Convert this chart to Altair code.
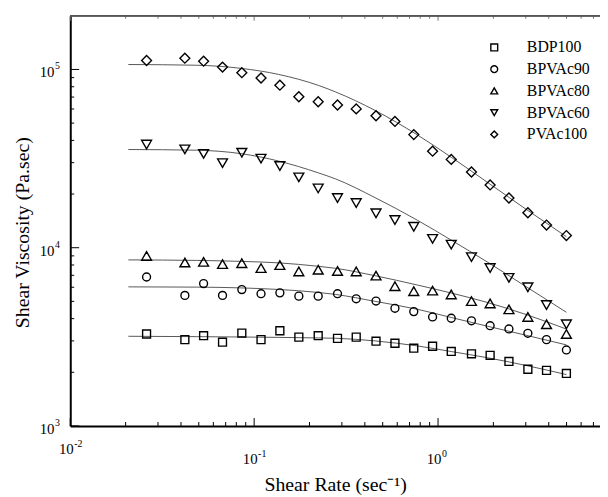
import altair as alt
import pandas as pd

# ---------------- data ----------------
series_names = ["BDP100", "BPVAc90", "BPVAc80", "BPVAc60", "PVAc100"]
shapes = ["square", "circle", "triangle-up", "triangle-down", "diamond"]

shear_rate = [0.026, 0.042, 0.0531, 0.0673, 0.0857, 0.109, 0.138, 0.175, 0.223, 0.284, 0.359,
              0.460, 0.583, 0.738, 0.934, 1.18, 1.52, 1.92, 2.43, 3.08, 3.89, 4.99]
bdp100 = [3280, 3050, 3210, 2950, 3320, 3050, 3420, 3150, 3210, 3100, 3150,
          2990, 2910, 2730, 2800, 2620, 2540, 2490, 2300, 2080, 2050, 1970]
bpvac90 = [6850, 5400, 6290, 5400, 5820, 5520, 5580, 5350, 5350, 5520, 5170,
           5020, 4570, 4380, 4090, 4020, 3890, 3650, 3500, 3310, 3050, 2670]
bpvac80 = [8990, 8260, 8330, 8090, 8190, 7690, 7990, 7360, 7520, 7400, 7360,
           6970, 6080, 5700, 5750, 5470, 5020, 4870, 4510, 4090, 3720, 3280]
bpvac60 = [37900, 35600, 33600, 29800, 34100, 31600, 28700, 24800, 21500, 19000, 17800,
           15600, 14300, 13100, 11200, 10400, 8850, 7690, 6770, 6000, 4770, 3720]
pvac100 = [112300, 115700, 111300, 103100, 95900, 89600, 81600, 70300, 65900, 63200, 60100,
           55000, 51100, 43100, 34800, 31300, 26600, 22500, 19000, 15700, 13400, 11700]

# fitted curves, read at these shear rates
fit_rate = [0.0207, 0.0487, 0.085, 0.136, 0.224, 0.277, 0.455, 0.775, 1.18, 1.85, 3.04, 4.99]
fit_bdp100 = [3185, 3170, 3155, 3140, 3118, 3105, 3000, 2810, 2615, 2415, 2180, 1942]
fit_bpvac90 = [6030, 6010, 5950, 5830, 5610, 5470, 5000, 4510, 4060, 3630, 3220, 2850]
fit_bpvac80 = [8543, 8486, 8380, 8222, 7863, 7664, 6963, 6169, 5569, 4933, 4205, 3495]
fit_bpvac60 = [35560, 35240, 33700, 30620, 26270, 24330, 19090, 14230, 11030, 8325, 6010, 4342]
fit_pvac100 = [106600, 105600, 101400, 93800, 81340, 74830, 58880, 42830, 32180, 23330, 16320, 11530]

x_major = [0.01, 0.1, 1]
x_exp = ["-2", "-1", "0"]
x_minor = [0.02, 0.03, 0.04, 0.05, 0.06, 0.07, 0.08, 0.09,
           0.2, 0.3, 0.4, 0.5, 0.6, 0.7, 0.8, 0.9, 2, 3, 4, 5, 6, 7]
y_major = [1000, 10000, 100000]
y_exp = ["3", "4", "5"]
y_minor = [2000, 3000, 4000, 5000, 6000, 7000, 8000, 9000,
           20000, 30000, 40000, 50000, 60000, 70000, 80000, 90000]

# ---------------- tables ----------------
pts_values = [bdp100, bpvac90, bpvac80, bpvac60, pvac100]
fit_values = [fit_bdp100, fit_bpvac90, fit_bpvac80, fit_bpvac60, fit_pvac100]
pts = pd.DataFrame([
    {"rate": r, "visc": v, "series": s}
    for s, vals in zip(series_names, pts_values) for r, v in zip(shear_rate, vals)
])
fits = pd.DataFrame([
    {"rate": r, "visc": v, "series": s}
    for s, vals in zip(series_names, fit_values) for r, v in zip(fit_rate, vals)
])
xlab = pd.DataFrame({"v": x_major, "e": x_exp, "b": ["10"] * 3})
ylab = pd.DataFrame({"v": y_major, "e": y_exp, "b": ["10"] * 3})

W, H = 536, 415
FONT = "Liberation Serif"

xscale = alt.Scale(type="log", domain=[0.01, 7.6], nice=False)
yscale = alt.Scale(type="log", domain=[1000, 200000], nice=False)

x_axis = alt.Axis(
    values=x_major, labels=False,
    ticks=False, grid=False, domainColor="black", domainWidth=2,
    title="Shear Rate (sec⁻¹)", titleFont=FONT, titleFontSize=20, titleFontWeight="normal",
    titleColor="black", titleY=65, titleBaseline="alphabetic",
)
y_axis = alt.Axis(
    values=y_major, labels=False,
    ticks=False, grid=False, domainColor="black", domainWidth=2,
    title="Shear Viscosity (Pa.sec)", titleFont=FONT, titleFontSize=20, titleFontWeight="normal",
    titleColor="black", titleX=-42, titleY=219, titleAngle=270, titleAlign="center",
    titleBaseline="alphabetic",
)

lines = alt.Chart(fits).mark_line(color="#444", strokeWidth=0.9, interpolate="monotone").encode(
    x=alt.X("rate:Q", scale=xscale, axis=x_axis),
    y=alt.Y("visc:Q", scale=yscale, axis=y_axis),
    detail="series:N",
)

legend = alt.Legend(orient="none", legendX=421, legendY=24, title=None,
                    labelFont=FONT, labelFontSize=16, labelColor="black",
                    symbolSize=48, symbolStrokeWidth=1.4, symbolType="circle",
                    symbolStrokeColor="black", rowPadding=6, labelOffset=25)

def point_layer(names, size):
    return alt.Chart(pts).transform_filter(
        alt.FieldOneOfPredicate(field="series", oneOf=names)
    ).mark_point(filled=False, color="black", strokeWidth=1.4, opacity=1, size=size).encode(
        x=alt.X("rate:Q", scale=xscale),
        y=alt.Y("visc:Q", scale=yscale),
        shape=alt.Shape("series:N", scale=alt.Scale(domain=series_names, range=shapes),
                        legend=legend),
    )

points_small = point_layer(["BDP100", "BPVAc90"], 64)
points_big = point_layer(["BPVAc80", "BPVAc60", "PVAc100"], 100)

tick_x_major = pd.DataFrame({"v": x_major})
tick_x_minor = pd.DataFrame({"v": x_minor})
tick_y_major = pd.DataFrame({"v": y_major})
tick_y_minor = pd.DataFrame({"v": y_minor})

def xticks(df, length, top=False, color="black"):
    if top:
        y1, y2 = alt.value(0), alt.value(length)
    else:
        y1, y2 = alt.value(H), alt.value(H - length)
    return alt.Chart(df).mark_rule(color=color, strokeWidth=1).encode(
        x=alt.X("v:Q", scale=xscale), y=y1, y2=y2)

def yticks(df, length):
    return alt.Chart(df).mark_rule(color="black", strokeWidth=1).encode(
        y=alt.Y("v:Q", scale=yscale), x=alt.value(0), x2=alt.value(length))

top_border = alt.Chart(tick_x_major).mark_rule(color="#555", strokeWidth=1.5).encode(
    x=alt.value(0), x2=alt.value(W), y=alt.value(0))

def xlabel(filt, ybase):
    base = alt.Chart(xlab).transform_filter(filt)
    b = base.mark_text(font=FONT, fontSize=15, color="black", align="right",
                       baseline="middle", dx=3.5).encode(
        x=alt.X("v:Q", scale=xscale), y=alt.value(ybase), text="b:N")
    e = base.mark_text(font=FONT, fontSize=10, color="black", align="left",
                       baseline="middle", dx=4).encode(
        x=alt.X("v:Q", scale=xscale), y=alt.value(ybase - 5), text="e:N")
    return b + e

ylab_base = alt.Chart(ylab).mark_text(font=FONT, fontSize=15, color="black", align="right",
                                      baseline="middle", dy=3).encode(
    y=alt.Y("v:Q", scale=yscale), x=alt.value(-16), text="b:N")
ylab_exp = alt.Chart(ylab).mark_text(font=FONT, fontSize=10, color="black", align="left",
                                     baseline="middle", dy=-3).encode(
    y=alt.Y("v:Q", scale=yscale), x=alt.value(-15.5), text="e:N")

chart = alt.layer(
    lines, points_small, points_big,
    xticks(tick_x_major, 8), xticks(tick_x_minor, 4),
    xticks(tick_x_major, 5, top=True, color="#777"), xticks(tick_x_minor, 3, top=True, color="#777"),
    yticks(tick_y_major, 9), yticks(tick_y_minor, 4),
    top_border,
    xlabel("datum.v > 0.05", H + 33), xlabel("datum.v < 0.05", H + 23),
    ylab_base, ylab_exp,
).properties(
    width=W, height=H,
    padding={"left": 63, "top": 5, "right": 0, "bottom": 70},
    autosize=alt.AutoSizeParams(type="none"),
).configure_view(stroke=None).configure(background="white")

chart.save("out.html", embed_options={"renderer": "svg", "actions": False})
